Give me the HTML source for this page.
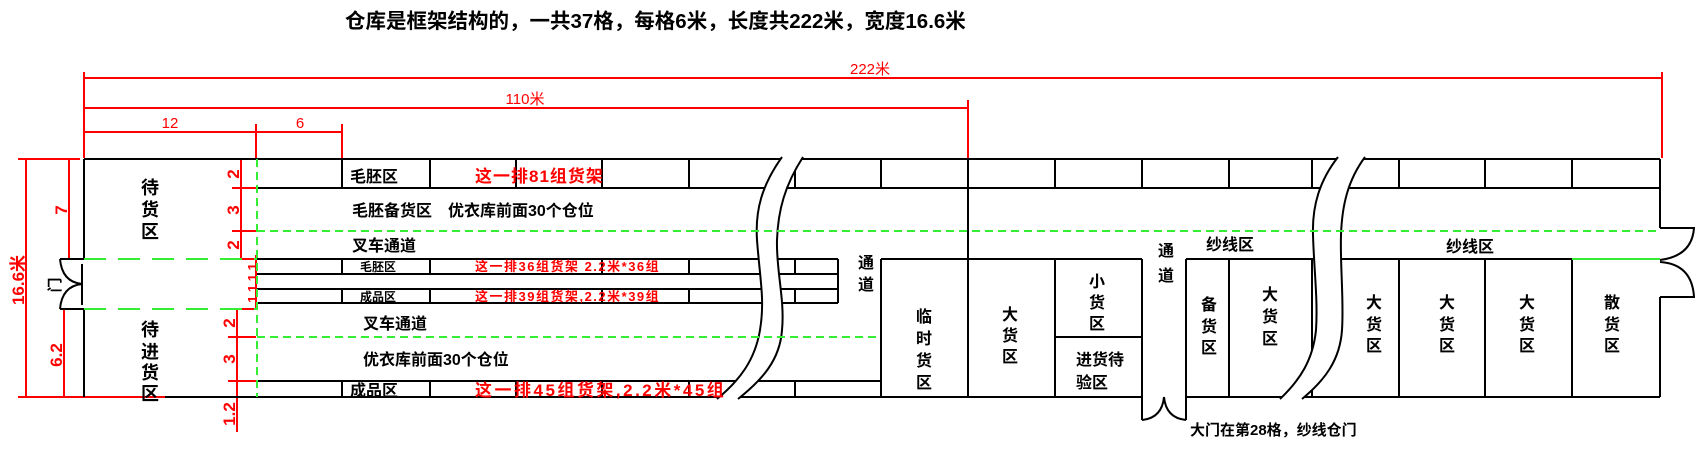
<!DOCTYPE html>
<html><head><meta charset="utf-8"><style>
body{margin:0;background:#fff}
svg{display:block}
text{font-family:"Liberation Sans","Noto Sans CJK SC",sans-serif;font-weight:bold}
.k{stroke:#000;stroke-width:2;fill:none}
.r{stroke:#f00;stroke-width:2;fill:none}
.g{stroke:#3e3;stroke-width:2;fill:none;stroke-dasharray:8 5}
.gl{stroke:#3e3;stroke-width:2;fill:none;stroke-dasharray:22 12}
.t{font-size:15px;fill:#000}
.rt{font-size:16px;fill:#f00}
.dt{font-size:15px;fill:#f00;font-weight:normal}
.v{font-size:16px;fill:#000;text-anchor:middle}
</style></head><body>
<svg width="1701" height="461" viewBox="0 0 1701 461">
<text x="345" y="28" style="font-size:20.5px">仓库是框架结构的，一共37格，每格6米，长度共222米，宽度16.6米</text>

<g class="r">
<line x1="84" y1="78" x2="1662" y2="78"/>
<line x1="84" y1="108" x2="968" y2="108"/>
<line x1="84" y1="132" x2="342" y2="132"/>
<line x1="84" y1="72" x2="84" y2="158"/>
<line x1="968" y1="100" x2="968" y2="158"/>
<line x1="1662" y1="72" x2="1662" y2="158"/>
<line x1="256" y1="124" x2="256" y2="160"/>
<line x1="342" y1="124" x2="342" y2="158"/>
</g>
<text x="870" y="74" class="dt" text-anchor="middle">222米</text>
<text x="525" y="104" class="dt" text-anchor="middle">110米</text>
<text x="170" y="128" class="dt" text-anchor="middle">12</text>
<text x="300" y="128" class="dt" text-anchor="middle">6</text>

<g class="r">
<line x1="26" y1="159" x2="26" y2="397"/>
<line x1="18" y1="159" x2="80" y2="159"/>
<line x1="18" y1="397" x2="84" y2="397"/>
<line x1="69" y1="159" x2="69" y2="259"/>
<line x1="64" y1="309" x2="64" y2="397"/>
<line x1="241" y1="159" x2="241" y2="259"/>
<line x1="232" y1="159" x2="256" y2="159"/>
<line x1="232" y1="188" x2="256" y2="188"/>
<line x1="232" y1="231" x2="256" y2="231"/>
<line x1="232" y1="259" x2="256" y2="259"/>
<line x1="256" y1="255" x2="256" y2="310"/>
<line x1="237" y1="309" x2="237" y2="432"/>
<line x1="228" y1="309" x2="256" y2="309"/>
<line x1="228" y1="337" x2="256" y2="337"/>
<line x1="228" y1="381" x2="256" y2="381"/>
<line x1="228" y1="397" x2="256" y2="397"/>
<line x1="84" y1="397" x2="165" y2="397"/>
</g>
<g class="dt">
<text transform="translate(24,280) rotate(-90)" text-anchor="middle" style="font-size:17px">16.6米</text>
<text transform="translate(67,210) rotate(-90)" text-anchor="middle" style="font-size:17px">7</text>
<text transform="translate(62,355) rotate(-90)" text-anchor="middle" style="font-size:17px">6.2</text>
<text transform="translate(239,174) rotate(-90)" text-anchor="middle" style="font-size:17px">2</text>
<text transform="translate(239,210) rotate(-90)" text-anchor="middle" style="font-size:17px">3</text>
<text transform="translate(239,245) rotate(-90)" text-anchor="middle" style="font-size:17px">2</text>
<text transform="translate(257,283) rotate(-90)" text-anchor="middle" style="font-size:13px">1.1.1.1</text>
<text transform="translate(235,323) rotate(-90)" text-anchor="middle" style="font-size:17px">2</text>
<text transform="translate(235,359) rotate(-90)" text-anchor="middle" style="font-size:17px">3</text>
<text transform="translate(235,414) rotate(-90)" text-anchor="middle" style="font-size:17px">1.2</text>
</g>

<g class="k">
<line x1="84" y1="159" x2="1660" y2="159"/>
<line x1="257" y1="188" x2="1660" y2="188"/>
<line x1="165" y1="397" x2="1142" y2="397"/>
<line x1="1186" y1="397" x2="1660" y2="397"/>
<line x1="84" y1="159" x2="84" y2="259"/>
<line x1="84" y1="309" x2="84" y2="397"/>
<line x1="1660" y1="159" x2="1660" y2="228"/>
<line x1="1660" y1="297" x2="1660" y2="397"/>
<path d="M342 159V188M430 159V188M516 159V188M602 159V188M689 159V188M795 159V188M881 159V188M968 159V397M1055 159V188M1142 159V188M1229 159V188M1312 159V188M1399 159V188M1485 159V188M1572 159V188"/>
<path d="M257 259H838M257 274H838M257 289H838M257 303H838M838 259V303"/>
<path d="M342 259V274M430 259V274M602 259V274M689 259V274M795 259V274M342 289V303M430 289V303M602 289V303M689 289V303M795 289V303"/>
<path d="M257 381H881M342 381V397M430 381V397M516 381V397M602 381V397M689 381V397M795 381V397"/>
<path d="M881 259H1142M1186 259H1572M881 259V397M1055 259V397M1055 337H1142M1142 259V420M1186 259V420M1229 259V397M1312 259V397M1399 259V397M1485 259V397M1572 259V397"/>
<path d="M1142 420Q1162 418 1164 397M1186 420Q1166 418 1164 397"/>
<path d="M60 259H84M60 309H84M60 259Q62 282 82 284M60 309Q62 286 82 284M82 264V305"/>
<path d="M1660 228H1694Q1692 256 1660 260M1660 297H1694Q1692 264 1660 262"/>
</g>
<line x1="1572" y1="259" x2="1660" y2="259" stroke="#3e3" stroke-width="2"/>

<path d="M782 157C762 185 755 210 757 240C760 280 765 300 760 330C755 360 740 380 717 399L738 399C762 380 780 360 782 330C785 300 776 270 777 240C778 210 785 185 803 157Z" fill="#fff" stroke="none"/>
<path class="k" d="M782 157C762 185 755 210 757 240C760 280 765 300 760 330C755 360 740 380 717 399M803 157C785 185 778 210 777 240C776 270 785 300 782 330C780 360 762 380 738 399"/>
<path d="M1338 157C1320 180 1312 205 1313 235C1314 270 1318 300 1316 330C1313 360 1300 380 1280 399L1302 399C1325 380 1340 360 1342 330C1344 300 1340 265 1341 235C1342 205 1348 180 1365 157Z" fill="#fff" stroke="none"/>
<path class="k" d="M1338 157C1320 180 1312 205 1313 235C1314 270 1318 300 1316 330C1313 360 1300 380 1280 399M1365 157C1348 180 1342 205 1341 235C1340 265 1344 300 1342 330C1340 360 1325 380 1302 399"/>

<line class="g" x1="257" y1="159" x2="257" y2="397"/>
<line class="g" x1="257" y1="231" x2="1660" y2="231"/>
<line class="g" x1="257" y1="337" x2="881" y2="337"/>
<line class="gl" x1="84" y1="259" x2="257" y2="259"/>
<line class="gl" x1="84" y1="309" x2="257" y2="309"/>

<g class="v" style="font-size:18px">
<text x="150" y="194">待</text><text x="150" y="216">货</text><text x="150" y="238">区</text>
<text x="150" y="336">待</text><text x="150" y="358">进</text><text x="150" y="379">货</text><text x="150" y="400">区</text>
</g>
<text transform="translate(60,285) rotate(-90)" text-anchor="middle" class="t">门</text>
<text x="350" y="182" class="t" style="font-size:16px">毛胚区</text>
<text x="475" y="182" class="rt" style="font-size:17px;letter-spacing:1px">这一排81组货架</text>
<text x="352" y="216" class="t" style="font-size:16px">毛胚备货区　优衣库前面30个仓位</text>
<text x="352" y="251" class="t" style="font-size:16px">叉车通道</text>
<text x="360" y="271" style="font-size:12px">毛胚区</text>
<text x="475" y="271" style="font-size:13px;fill:#f00;letter-spacing:1.5px">这一排36组货架 2.2米*36组</text>
<text x="360" y="301" style="font-size:12px">成品区</text>
<text x="475" y="301" style="font-size:13px;fill:#f00;letter-spacing:1.5px">这一排39组货架,2.2米*39组</text>
<text x="363" y="329" class="t" style="font-size:16px">叉车通道</text>
<text x="363" y="365" class="t" style="font-size:16px">优衣库前面30个仓位</text>
<text x="350" y="396" class="t" style="font-size:16px">成品区</text>
<text x="475" y="396" class="rt" style="font-size:17px;letter-spacing:2.5px">这一排45组货架,2.2米*45组</text>

<g class="v" style="font-size:16px">
<text x="866" y="268">通</text><text x="866" y="290">道</text>
<text x="924" y="322">临</text><text x="924" y="344">时</text><text x="924" y="366">货</text><text x="924" y="388">区</text>
<text x="1010" y="320">大</text><text x="1010" y="341">货</text><text x="1010" y="362">区</text>
<text x="1097" y="287">小</text><text x="1097" y="308">货</text><text x="1097" y="329">区</text>
<text x="1166" y="256">通</text><text x="1166" y="281">道</text>
<text x="1209" y="310">备</text><text x="1209" y="332">货</text><text x="1209" y="353">区</text>
<text x="1270" y="300">大</text><text x="1270" y="322">货</text><text x="1270" y="344">区</text>
<text x="1374" y="308">大</text><text x="1374" y="330">货</text><text x="1374" y="351">区</text>
<text x="1447" y="308">大</text><text x="1447" y="330">货</text><text x="1447" y="351">区</text>
<text x="1527" y="308">大</text><text x="1527" y="330">货</text><text x="1527" y="351">区</text>
<text x="1612" y="308">散</text><text x="1612" y="330">货</text><text x="1612" y="351">区</text>
<text x="1100" y="365">进货待</text><text x="1092" y="388">验区</text>
<text x="1230" y="250">纱线区</text>
<text x="1470" y="252">纱线区</text>
</g>
<text x="1190" y="435" class="t" style="font-size:15px">大门在第28格，纱线仓门</text>
</svg>
</body></html>
